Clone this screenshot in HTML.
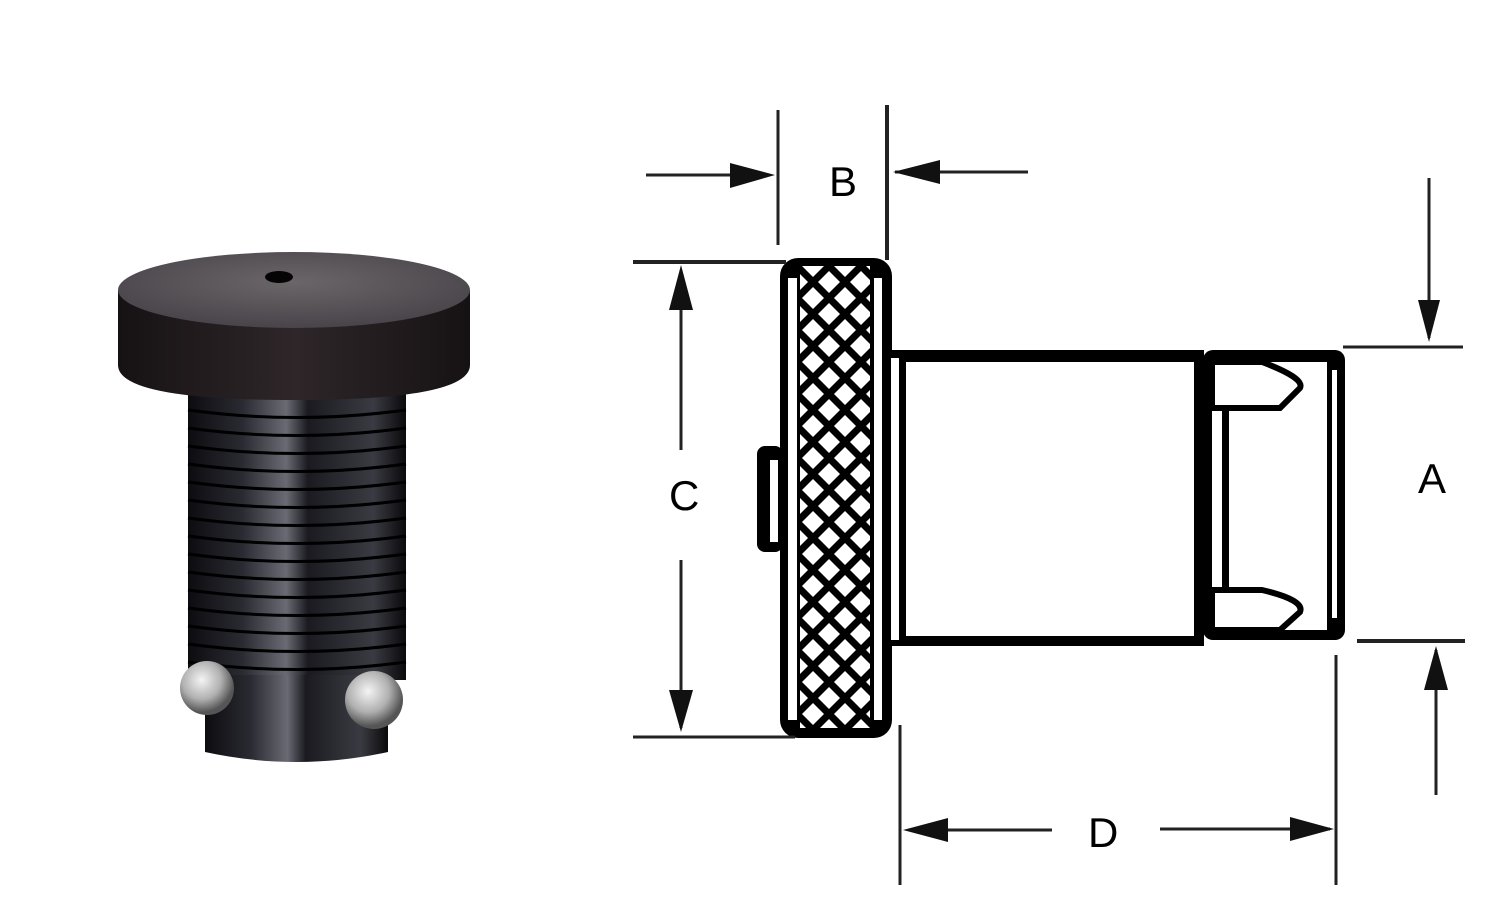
<!DOCTYPE html>
<html><head><meta charset="utf-8"><style>
html,body{margin:0;padding:0;background:#fff;}
svg{display:block;}
text{font-family:"Liberation Sans",sans-serif;font-size:42px;fill:#000;}
</style></head><body>
<svg width="1502" height="900" viewBox="0 0 1502 900" xmlns="http://www.w3.org/2000/svg">
<defs>
<linearGradient id="body" x1="0" x2="1">
<stop offset="0" stop-color="#0c0c10"/><stop offset="0.25" stop-color="#2a2a32"/><stop offset="0.45" stop-color="#6a6a74"/><stop offset="0.55" stop-color="#1a1a20"/><stop offset="0.85" stop-color="#3a3a42"/><stop offset="1" stop-color="#0a0a0c"/>
</linearGradient>
<linearGradient id="cap" x1="0" x2="1">
<stop offset="0" stop-color="#161214"/><stop offset="0.5" stop-color="#2e2628"/><stop offset="1" stop-color="#161214"/>
</linearGradient>
<radialGradient id="top" cx="0.5" cy="0.4" r="0.6">
<stop offset="0" stop-color="#6a6668"/><stop offset="1" stop-color="#48444a"/>
</radialGradient>
<radialGradient id="ball" cx="0.4" cy="0.35" r="0.6">
<stop offset="0" stop-color="#f4f4f4"/><stop offset="0.6" stop-color="#b0b0b0"/><stop offset="1" stop-color="#555"/>
</radialGradient>
<pattern id="kn" x="797" y="266" width="32" height="32" patternUnits="userSpaceOnUse">
<rect width="32" height="32" fill="#000"/>
<polygon points="16,3 27,14 16,25 5,14" fill="#fff" transform="translate(-16,2)"/>
<polygon points="16,3 27,14 16,25 5,14" fill="#fff" transform="translate(16,2)"/>
<polygon points="16,3 27,14 16,25 5,14" fill="#fff" transform="translate(0,18)"/>
<polygon points="16,3 27,14 16,25 5,14" fill="#fff" transform="translate(0,-14)"/>
</pattern>
</defs>

<!-- Photo -->
<rect x="188" y="380" width="218" height="300" fill="url(#body)"/>
<g stroke="#000" stroke-width="3" fill="none">
<path d="M188 410 Q297 425 406 410"/><path d="M188 428 Q297 443 406 428"/><path d="M188 446 Q297 461 406 446"/>
<path d="M188 464 Q297 479 406 464"/><path d="M188 482 Q297 497 406 482"/><path d="M188 500 Q297 515 406 500"/>
<path d="M188 518 Q297 533 406 518"/><path d="M188 536 Q297 551 406 536"/><path d="M188 554 Q297 569 406 554"/>
<path d="M188 572 Q297 587 406 572"/><path d="M188 590 Q297 605 406 590"/><path d="M188 608 Q297 623 406 608"/>
<path d="M188 626 Q297 641 406 626"/><path d="M188 644 Q297 659 406 644"/><path d="M188 662 Q297 677 406 662"/>
</g>
<path d="M205 675 L388 675 L388 752 Q297 772 205 752 Z" fill="url(#body)"/>
<circle cx="207" cy="688" r="27" fill="url(#ball)"/>
<circle cx="374" cy="700" r="29" fill="url(#ball)"/>
<path d="M118 290 L118 365 Q118 400 294 400 Q470 400 470 365 L470 290 Z" fill="url(#cap)"/>
<ellipse cx="294" cy="290" rx="176" ry="38" fill="url(#top)"/>
<ellipse cx="279" cy="277" rx="14" ry="6" fill="#050505"/>

<!-- Drawing part -->
<g fill="#000">
<rect x="757" y="446" width="26" height="106" rx="8"/>
<rect x="770" y="460" width="8" height="82" fill="#fff"/>
<rect x="780" y="258" width="112" height="480" rx="18"/>
<rect x="788" y="278" width="9" height="442" fill="#fff"/>
<rect x="874" y="278" width="8" height="442" fill="#fff"/>
<rect x="800" y="266" width="70" height="462" fill="url(#kn)"/>
<rect x="891" y="350" width="313" height="296"/>
<rect x="906" y="362" width="288" height="274" fill="#fff"/>
<rect x="891" y="358" width="8" height="282" fill="#fff"/>
<rect x="1203" y="350" width="142" height="290" rx="10"/>
<rect x="1212" y="392" width="10" height="210" fill="#fff"/>
<rect x="1229" y="362" width="98" height="268" fill="#fff"/>
<rect x="1332" y="370" width="5" height="248" fill="#fff"/>
<path d="M1212 362 L1262 362 Q1305 378 1300 388 L1280 408 L1212 408 Z" fill="#fff" stroke="#000" stroke-width="6"/>
<path d="M1212 590 L1262 590 Q1305 600 1300 612 L1280 630 L1212 630 Z" fill="#fff" stroke="#000" stroke-width="6"/>
</g>

<!-- Dimension lines -->
<g stroke="#222" stroke-width="3" fill="none">
<line x1="778" y1="110" x2="778" y2="245"/>
<line x1="887" y1="105" x2="887" y2="260" stroke-width="4"/>
<line x1="646" y1="175" x2="770" y2="175"/>
<line x1="895" y1="172" x2="1028" y2="172"/>
<line x1="633" y1="262" x2="786" y2="262" stroke-width="4"/>
<line x1="633" y1="737" x2="795" y2="737"/>
<line x1="681" y1="270" x2="681" y2="450"/>
<line x1="681" y1="560" x2="681" y2="728"/>
<line x1="1343" y1="347" x2="1463" y2="347"/>
<line x1="1357" y1="641" x2="1465" y2="641" stroke-width="4"/>
<line x1="1429" y1="178" x2="1429" y2="338"/>
<line x1="1436" y1="650" x2="1436" y2="795"/>
<line x1="900" y1="725" x2="900" y2="885"/>
<line x1="1336" y1="655" x2="1336" y2="885"/>
<line x1="908" y1="830" x2="1052" y2="830"/>
<line x1="1160" y1="829" x2="1330" y2="829"/>
</g>
<g fill="#111">
<polygon points="730,163 775,175 730,188"/>
<polygon points="940,160 893,172 940,184"/>
<polygon points="669,310 681,265 693,310"/>
<polygon points="669,690 681,732 693,690"/>
<polygon points="1418,300 1429,342 1440,300"/>
<polygon points="1424,690 1436,646 1448,690"/>
<polygon points="948,818 903,830 948,842"/>
<polygon points="1290,817 1334,829 1290,841"/>
</g>
<text x="829" y="196">B</text>
<text x="669" y="510">C</text>
<text x="1418" y="493">A</text>
<text x="1088" y="847">D</text>
</svg>
</body></html>
